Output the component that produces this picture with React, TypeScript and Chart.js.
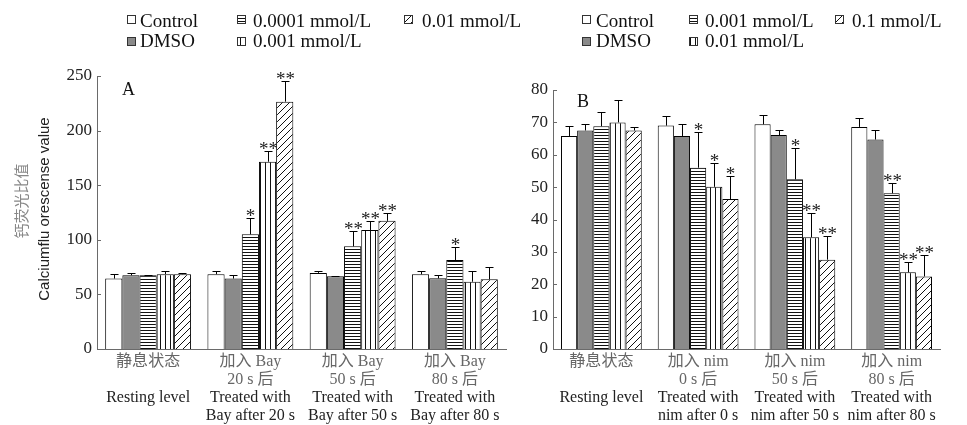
import React, { useEffect, useRef } from "react";
import { Chart, registerables } from "chart.js";

Chart.register(...registerables);

// ---------- Data ----------
const namesA = ["Control", "DMSO", "0.0001 mmol/L", "0.001 mmol/L", "0.01 mmol/L"];
const namesB = ["Control", "DMSO", "0.001 mmol/L", "0.01 mmol/L", "0.1 mmol/L"];

const categoriesA = [
  ["静息状态", "", "Resting level"],
  ["加入 Bay", "20 s 后", "Treated with", "Bay after 20 s"],
  ["加入 Bay", "50 s 后", "Treated with", "Bay after 50 s"],
  ["加入 Bay", "80 s 后", "Treated with", "Bay after 80 s"],
];
const categoriesB = [
  ["静息状态", "", "Resting level"],
  ["加入 nim", "0 s 后", "Treated with", "nim after 0 s"],
  ["加入 nim", "50 s 后", "Treated with", "nim after 50 s"],
  ["加入 nim", "80 s 后", "Treated with", "nim after 80 s"],
];

// Panel A means
const controlA = [64.5, 68.5, 69.7, 68.4];
const dmsoA = [67.5, 64.5, 66.6, 64.7];
const bay0001A = [67.5, 105, 94, 81.5];
const bay001A = [68.5, 171.5, 109, 61.6];
const bay01A = [68.5, 226.5, 117.4, 63.8];
// Panel A errors
const controlErrA = [4, 3, 2, 3];
const dmsoErrA = [2, 3.5, 0.7, 3];
const bay0001ErrA = [0.6, 15, 14, 12];
const bay001ErrA = [3, 10, 8, 10];
const bay01ErrA = [0.8, 19, 7, 11.6];
// Panel A significance
const controlSigA = ["", "", "", ""];
const dmsoSigA = ["", "", "", ""];
const bay0001SigA = ["", "*", "**", "*"];
const bay001SigA = ["", "**", "**", ""];
const bay01SigA = ["", "**", "**", ""];

// Panel B means
const controlB = [65.8, 69, 69.4, 68.6];
const dmsoB = [67.5, 65.8, 66.1, 64.7];
const nim001B = [68.8, 56, 52.4, 48.1];
const nim01B = [70, 50.1, 34.5, 23.7];
const nim1B = [67.5, 46.3, 27.6, 22.4];
// Panel B errors
const controlErrB = [3, 3, 2.8, 2.8];
const dmsoErrB = [2, 3.6, 1.5, 2.8];
const nim001ErrB = [4.3, 11, 9.6, 3.3];
const nim01ErrB = [7, 7.4, 7.4, 3.3];
const nim1ErrB = [1, 7.1, 7.3, 6.5];
// Panel B significance
const controlSigB = ["", "", "", ""];
const dmsoSigB = ["", "", "", ""];
const nim001SigB = ["", "*", "*", "**"];
const nim01SigB = ["", "*", "**", "**"];
const nim1SigB = ["", "*", "**", "**"];

const ticksA = { max: 250, step: 50 };
const ticksB = { max: 80, step: 10 };

// ---------- Styling ----------
const SERIF = "'Liberation Serif', 'Times New Roman', 'Noto Sans CJK SC', serif";
const SANS = "'Liberation Sans', Arial, sans-serif";
const AXIS_COLOR = "#6a6a6a";

type Fill = string | CanvasPattern;

function makeFill(kind: string): Fill {
  if (kind === "white") return "#ffffff";
  if (kind === "gray") return "#8a8a8a";
  const c = document.createElement("canvas");
  const ctx = c.getContext("2d")!;
  if (kind === "h") {
    c.width = 4; c.height = 3;
    ctx.fillStyle = "#fff"; ctx.fillRect(0, 0, 4, 3);
    ctx.fillStyle = "#111"; ctx.fillRect(0, 0, 4, 1);
  } else if (kind === "v") {
    c.width = 5; c.height = 4;
    ctx.fillStyle = "#fff"; ctx.fillRect(0, 0, 5, 4);
    ctx.fillStyle = "#111"; ctx.fillRect(0, 0, 1, 4);
  } else {
    c.width = 7; c.height = 7;
    ctx.fillStyle = "#fff"; ctx.fillRect(0, 0, 7, 7);
    ctx.strokeStyle = "#111"; ctx.lineWidth = 1;
    ctx.beginPath();
    ctx.moveTo(0, 7); ctx.lineTo(7, 0);
    ctx.moveTo(-1, 1); ctx.lineTo(1, -1);
    ctx.moveTo(6, 8); ctx.lineTo(8, 6);
    ctx.stroke();
  }
  return ctx.createPattern(c, "repeat")!;
}

interface PanelSpec {
  names: string[];
  labels: string[][];
  values: number[][];
  errors: number[][];
  sig: string[][];
  yMax: number;
  yStep: number;
  letter: string;
  letterX: number;
  letterY: number;
  swatchX: number[];
  textX: number[];
  axisWidth: number;
  padTop: number;
  padRight: number;
  catPct: number;
  titles: boolean;
}

function buildChart(canvas: HTMLCanvasElement, spec: PanelSpec): Chart {
  const fills = ["white", "gray", "h", "v", "d"].map(makeFill);

  const decor = {
    id: "decor",
    afterDatasetsDraw(chart: any) {
      const ctx: CanvasRenderingContext2D = chart.ctx;
      const y = chart.scales.y;
      const x = chart.scales.x;
      const area = chart.chartArea;
      ctx.save();
      // inward y ticks
      ctx.strokeStyle = AXIS_COLOR;
      ctx.lineWidth = 1;
      for (let v = 0; v <= spec.yMax; v += spec.yStep) {
        const py = Math.round(y.getPixelForValue(v)) + 0.5;
        ctx.beginPath();
        ctx.moveTo(area.left, py);
        ctx.lineTo(area.left + 4, py);
        ctx.stroke();
      }
      // category labels (Chinese lines gray, English lines dark)
      ctx.textAlign = "center";
      ctx.textBaseline = "middle";
      spec.labels.forEach((lines, i) => {
        const px = x.getPixelForValue(i);
        lines.forEach((line, k) => {
          if (!line) return;
          ctx.fillStyle = k < 2 ? "#666" : "#222";
          ctx.font = `16px ${SERIF}`;
          ctx.fillText(line, px, area.bottom + 13 + k * 18);
        });
      });
      // error bars + significance
      ctx.strokeStyle = "#000";
      ctx.fillStyle = "#222";
      ctx.font = `19px ${SERIF}`;
      ctx.textAlign = "center";
      ctx.textBaseline = "alphabetic";
      chart.data.datasets.forEach((ds: any, i: number) => {
        const meta = chart.getDatasetMeta(i);
        meta.data.forEach((bar: any, j: number) => {
          const v = ds.data[j];
          const e = spec.errors[i][j];
          const bx = Math.round(bar.x) + 0.5;
          const top = y.getPixelForValue(v);
          const et = Math.round(y.getPixelForValue(v + e)) + 0.5;
          ctx.beginPath();
          ctx.moveTo(bx, top);
          ctx.lineTo(bx, et);
          ctx.moveTo(bx - 4, et);
          ctx.lineTo(bx + 4, et);
          ctx.stroke();
          const s = spec.sig[i][j];
          if (s) ctx.fillText(s, bx, et + 3);
        });
      });
      ctx.restore();
    },
    afterDraw(chart: any) {
      const ctx: CanvasRenderingContext2D = chart.ctx;
      ctx.save();
      // legend
      ctx.font = `19px ${SERIF}`;
      ctx.textBaseline = "alphabetic";
      ctx.textAlign = "left";
      spec.names.forEach((name, i) => {
        const col = Math.floor(i / 2);
        const row = i % 2;
        const sx = spec.swatchX[col] + 0.5;
        const sy = (row === 0 ? 15 : 37) + 0.5;
        ctx.fillStyle = fills[i] as any;
        ctx.fillRect(sx, sy, 8, 8);
        ctx.strokeStyle = "#333";
        ctx.lineWidth = 1;
        ctx.strokeRect(sx, sy, 8, 8);
        ctx.fillStyle = "#111";
        ctx.fillText(name, spec.textX[col], row === 0 ? 27 : 47);
      });
      // panel letter
      ctx.font = `18px ${SERIF}`;
      ctx.fillStyle = "#111";
      ctx.fillText(spec.letter, spec.letterX, spec.letterY);
      // axis titles
      if (spec.titles) {
        ctx.textAlign = "center";
        ctx.textBaseline = "middle";
        ctx.save();
        ctx.translate(21, 201);
        ctx.rotate(-Math.PI / 2);
        ctx.font = `15px 'Noto Sans CJK SC', sans-serif`;
        ctx.fillStyle = "#888";
        ctx.fillText("钙荧光比值", 0, 0);
        ctx.restore();
        ctx.save();
        ctx.translate(45, 209);
        ctx.rotate(-Math.PI / 2);
        ctx.font = `15px ${SANS}`;
        ctx.fillStyle = "#222";
        ctx.fillText("Calciumflu orescense value", 0, 0);
        ctx.restore();
      }
      ctx.restore();
    },
  };

  return new Chart(canvas, {
    type: "bar",
    data: {
      labels: spec.labels as any,
      datasets: spec.names.map((name, i) => ({
        label: name,
        data: spec.values[i],
        backgroundColor: fills[i] as any,
        borderColor: "#000",
        borderWidth: 1,
        borderSkipped: "start",
        barPercentage: 1,
        categoryPercentage: spec.catPct,
      })),
    },
    options: {
      responsive: false,
      animation: false,
      events: [],
      layout: { padding: { top: spec.padTop, right: spec.padRight, bottom: 0, left: 0 } },
      plugins: { legend: { display: false }, tooltip: { enabled: false }, title: { display: false } },
      scales: {
        x: {
          grid: { display: false, drawTicks: false },
          border: { display: true, color: AXIS_COLOR, width: 1 },
          ticks: { display: false },
          afterFit: (s: any) => { s.height = 76; },
        },
        y: {
          min: 0,
          max: spec.yMax,
          grid: { display: false, drawTicks: false },
          border: { display: true, color: AXIS_COLOR, width: 1 },
          ticks: {
            stepSize: spec.yStep,
            color: "#222",
            font: { family: SERIF, size: 17 },
            padding: 5,
          },
          afterFit: (s: any) => { s.width = spec.axisWidth; },
        },
      },
    },
    plugins: [decor],
  } as any);
}

const specA: PanelSpec = {
  names: namesA,
  labels: categoriesA,
  values: [controlA, dmsoA, bay0001A, bay001A, bay01A],
  errors: [controlErrA, dmsoErrA, bay0001ErrA, bay001ErrA, bay01ErrA],
  sig: [controlSigA, dmsoSigA, bay0001SigA, bay001SigA, bay01SigA],
  yMax: ticksA.max,
  yStep: ticksA.step,
  letter: "A",
  letterX: 122,
  letterY: 95,
  swatchX: [127, 237, 404],
  textX: [140, 253, 422],
  axisWidth: 97,
  padTop: 76,
  padRight: 24,
  catPct: 0.84,
  titles: true,
};

const specB: PanelSpec = {
  names: namesB,
  labels: categoriesB,
  values: [controlB, dmsoB, nim001B, nim01B, nim1B],
  errors: [controlErrB, dmsoErrB, nim001ErrB, nim01ErrB, nim1ErrB],
  sig: [controlSigB, dmsoSigB, nim001SigB, nim01SigB, nim1SigB],
  yMax: ticksB.max,
  yStep: ticksB.step,
  letter: "B",
  letterX: 97,
  letterY: 107,
  swatchX: [102, 209, 355],
  textX: [116, 225, 372],
  axisWidth: 73,
  padTop: 90,
  padRight: 27,
  catPct: 0.835,
  titles: false,
};

export default function App() {
  const refA = useRef<HTMLCanvasElement>(null);
  const refB = useRef<HTMLCanvasElement>(null);

  useEffect(() => {
    const a = buildChart(refA.current!, specA);
    const b = buildChart(refB.current!, specB);
    return () => {
      a.destroy();
      b.destroy();
    };
  }, []);

  return (
    <div style={{ position: "absolute", left: 0, top: 0, width: 967, height: 425, background: "#fff", overflow: "hidden" }}>
      <canvas ref={refA} width={530} height={425} style={{ position: "absolute", left: 0, top: 0 }} />
      <canvas ref={refB} width={487} height={425} style={{ position: "absolute", left: 480, top: 0 }} />
    </div>
  );
}
